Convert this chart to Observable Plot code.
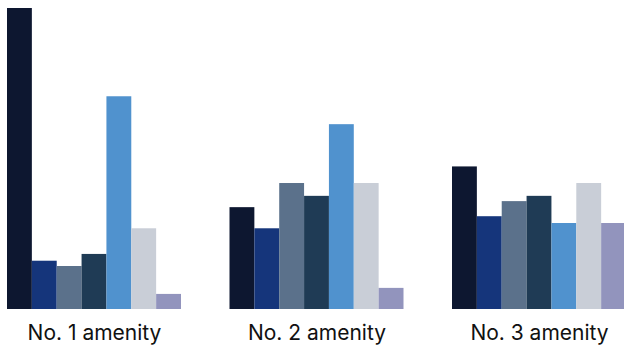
<!DOCTYPE html>
<html>
<head>
<meta charset="utf-8">
<script src="https://cdn.jsdelivr.net/npm/d3@7"></script>
<script src="https://cdn.jsdelivr.net/npm/@observablehq/plot@0.6"></script>
<style>
  html, body { margin: 0; padding: 0; background: #fff; }
  #chart { width: 624px; height: 348px; overflow: hidden; }
</style>
</head>
<body>
<div id="chart"></div>
<script>
const groups = ["No. 1 amenity", "No. 2 amenity", "No. 3 amenity"];
const series = ["Series 1", "Series 2", "Series 3", "Series 4", "Series 5", "Series 6", "Series 7"];
const colors = ["#0d1730", "#15357b", "#5b718b", "#1f3b55", "#5092ce", "#c9ced7", "#9294bd"];
const rank1 = [39.9, 6.4, 5.7, 7.3, 28.2, 10.7, 2.0];
const rank2 = [13.5, 10.7, 16.7, 15.0, 24.5, 16.7, 2.8];
const rank3 = [18.9, 12.3, 14.3, 15.0, 11.4, 16.7, 11.4];

const valuesByGroup = [rank1, rank2, rank3];
const data = [];
groups.forEach((g, gi) => {
  series.forEach((s, si) => {
    data.push({group: g, series: s, value: valuesByGroup[gi][si]});
  });
});

const chart = Plot.plot({
  width: 624,
  height: 348,
  marginTop: 8,
  marginBottom: 39,
  marginLeft: 7,
  marginRight: -2,
  style: {fontFamily: "Inter, 'Noto Sans', sans-serif", background: "#fff", overflow: "visible"},
  fx: {domain: groups, paddingInner: 0.218, paddingOuter: 0, round: false, label: null},
  x: {domain: series, padding: 0, round: false, axis: null},
  y: {domain: [0, 39.9], axis: null},
  color: {domain: series, range: colors},
  marks: [
    Plot.barY(data, {fx: "group", x: "series", y: "value", fill: "series"}),
    Plot.axisFx({anchor: "bottom", tickSize: 0, tickPadding: 16, fontSize: 21, fill: "#111", label: null})
  ]
});
document.getElementById("chart").appendChild(chart);
</script>
</body>
</html>
